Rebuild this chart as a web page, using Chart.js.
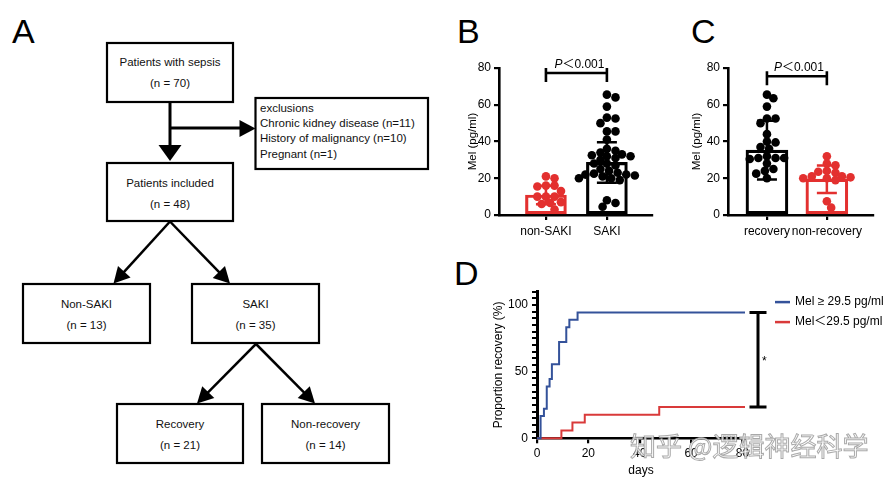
<!DOCTYPE html>
<html><head><meta charset="utf-8">
<script src="https://cdn.jsdelivr.net/npm/chart.js@4.4.1/dist/chart.umd.min.js"></script>
<style>
html,body{margin:0;padding:0;background:#fff;}
body{width:896px;height:486px;position:relative;overflow:hidden;font-family:"Liberation Sans",Arial,sans-serif;}
canvas{position:absolute;}
#wm{position:absolute;left:630px;top:432px;font-family:"Noto Sans CJK SC",sans-serif;font-size:26px;line-height:1;color:rgba(255,255,255,0.85);-webkit-text-stroke:1px rgba(140,140,140,0.75);white-space:nowrap;letter-spacing:0px;}
</style></head><body>
<svg id="fc" width="896" height="486" style="position:absolute;left:0;top:0" xmlns="http://www.w3.org/2000/svg"></svg>
<canvas id="cb" width="230" height="250" style="left:440px;top:0;width:230px;height:250px"></canvas>
<canvas id="cc" width="226" height="250" style="left:670px;top:0;width:226px;height:250px"></canvas>
<canvas id="cd" width="436" height="236" style="left:460px;top:250px;width:436px;height:236px"></canvas>
<div id="wm">知乎 @逻辑神经科学</div>
<script>
// ---------------- data ----------------
const bCategories = ['non-SAKI', 'SAKI'];
const bNonSAKI = [21, 20, 16, 16, 15.5, 13, 10, 10, 10, 7, 6.5, 6, 3];
const bSAKI = [65.5, 64, 59, 53, 52.5, 50, 45.5, 45.5, 41, 36, 35, 34, 33, 32.5, 32, 32, 31, 30, 28, 28, 27, 25, 24, 23, 22.5, 22, 22, 21.5, 21, 20, 20, 19, 8, 6.5, 4.5];
const bMeans = [10.9, 28.6];
const bSD = [5, 11];

const cCategories = ['recovery', 'non-recovery'];
const cRecovery = [65.5, 63.5, 59, 52.5, 52.5, 50, 44, 40, 39.5, 37, 36, 32, 31, 31, 31, 30.5, 28, 25, 24, 22.5, 20];
const cNonRecovery = [32, 28, 27, 24, 23.5, 23, 21, 21, 20.5, 20, 20, 19, 7.5, 4];
const cMeans = [35.3, 19.5];
const cSD = [16, 7.5];

const yTicksBC = [0, 20, 40, 60, 80];
const pText = '0.001';

const dLabels = ['Mel \u2265 29.5 pg/ml', 'Mel\uFF1C29.5 pg/ml'];
const dDaysHigh = [0, 1.4, 2.7, 3.8, 4.9, 5.8, 8.6, 11.4, 12.6, 15.8, 81];
const dPropHigh = [0, 16.7, 22.2, 38.9, 44.4, 55.6, 72.2, 83.3, 88.9, 94.4, 94.4];
const dDaysLow = [0, 9.5, 13.8, 18.6, 47.6, 81];
const dPropLow = [0, 5.9, 11.8, 17.6, 23.5, 23.5];
const dXTicks = [0, 20, 40, 60, 80];

// ---------------- flowchart (panel A) + panel letters ----------------
const NS = 'http://www.w3.org/2000/svg';
const svg = document.getElementById('fc');
function el(tag, attrs, text) {
  const e = document.createElementNS(NS, tag);
  for (const k in attrs) e.setAttribute(k, attrs[k]);
  if (text !== undefined) e.textContent = text;
  svg.appendChild(e);
  return e;
}
function box(x, y, w, h) { el('rect', {x, y, width: w, height: h, fill: '#fff', stroke: '#000', 'stroke-width': 2.2}); }
function txt(x, y, s, anchor, size) {
  el('text', {x, y, 'font-family': 'Liberation Sans, Arial, sans-serif', 'font-size': size || 11.5, 'text-anchor': anchor || 'middle', fill: '#111'}, s);
}
function arrow(x1, y1, x2, y2, lw, len, hw) {
  const dx = x2 - x1, dy = y2 - y1, L = Math.hypot(dx, dy);
  const ux = dx / L, uy = dy / L, nx = -uy, ny = ux;
  const bx = x2 - ux * len, by = y2 - uy * len;
  el('line', {x1, y1, x2: bx + ux, y2: by + uy, stroke: '#000', 'stroke-width': lw});
  el('polygon', {points: `${x2},${y2} ${bx + nx * hw},${by + ny * hw} ${bx - nx * hw},${by - ny * hw}`, fill: '#000'});
}
function letter(x, y, s) { el('text', {x, y, 'font-family': 'Liberation Sans, Arial, sans-serif', 'font-size': 34, fill: '#000'}, s); }
letter(12, 43, 'A'); letter(457, 43, 'B'); letter(691, 43, 'C'); letter(454, 285, 'D');

el('line', {x1: 170, y1: 128, x2: 240, y2: 128, stroke: '#000', 'stroke-width': 3});
arrow(170, 102, 170, 161, 3, 16, 11.5);
arrow(240, 128.5, 255.5, 128.5, 3, 16, 8.5);
arrow(170, 221.5, 113.5, 283.5, 2.5, 16, 8.5);
arrow(170, 221.5, 230, 283.5, 2.5, 16, 8.5);
arrow(256, 344, 197, 403.5, 2.5, 16, 8.5);
arrow(256, 344, 315, 403.5, 2.5, 16, 8.5);
box(107, 43, 126, 59); txt(170, 66, 'Patients with sepsis'); txt(170, 87, '(n = 70)');
box(255.5, 98, 172.5, 71);
txt(260, 112, 'exclusions', 'start'); txt(260, 127, 'Chronic kidney disease (n=11)', 'start');
txt(260, 142, 'History of malignancy (n=10)', 'start'); txt(260, 158, 'Pregnant (n=1)', 'start');
box(107, 163, 126, 58); txt(170, 187, 'Patients included'); txt(170, 208, '(n = 48)');
box(23, 284, 127, 59); txt(86.5, 308, 'Non-SAKI'); txt(86.5, 329, '(n = 13)');
box(192, 284, 127, 59); txt(255.5, 308, 'SAKI'); txt(255.5, 329, '(n = 35)');
box(117, 404, 126, 59); txt(180, 428, 'Recovery'); txt(180, 449, '(n = 21)');
box(262, 404, 127, 59); txt(325.5, 428, 'Non-recovery'); txt(325.5, 449, '(n = 14)');

// ---------------- shared ----------------
const FONT = '"Liberation Sans", Arial, "Noto Sans CJK SC", sans-serif';
Chart.defaults.font.family = FONT;
Chart.defaults.color = '#000';
const RED = '#e3302f';
const BLACK = '#000000';
const BLUE = '#34529a';
const RED2 = '#d93a3a';

const errPlugin = {
  id: 'err',
  afterDatasetsDraw(chart, args, o) {
    const {ctx, scales: {x, y}} = chart;
    o.means.forEach((m, i) => {
      const px = x.getPixelForValue(i);
      const t = y.getPixelForValue(m + o.sds[i]);
      const b = y.getPixelForValue(m - o.sds[i]);
      ctx.save();
      ctx.strokeStyle = o.colors[i]; ctx.lineWidth = 2.5;
      ctx.beginPath();
      ctx.moveTo(px, t); ctx.lineTo(px, b);
      ctx.moveTo(px - o.cap, t); ctx.lineTo(px + o.cap, t);
      ctx.moveTo(px - o.cap, b); ctx.lineTo(px + o.cap, b);
      ctx.stroke(); ctx.restore();
    });
  }
};
const bracketPlugin = {
  id: 'bracket',
  afterDraw(chart, args, o) {
    const {ctx, scales: {x, y}} = chart;
    const x1 = x.getPixelForValue(0), x2 = x.getPixelForValue(1);
    const py = y.getPixelForValue(o.level);
    ctx.save();
    ctx.strokeStyle = '#000'; ctx.lineWidth = 2.6;
    ctx.beginPath();
    ctx.moveTo(x1, py); ctx.lineTo(x2, py);
    ctx.moveTo(x1, py - 5); ctx.lineTo(x1, py + 9);
    ctx.moveTo(x2, py - 5); ctx.lineTo(x2, py + 9);
    ctx.stroke();
    ctx.fillStyle = '#000'; ctx.textBaseline = 'alphabetic';
    const fI = 'italic 12px ' + FONT, fN = '12px ' + FONT;
    ctx.font = fI; const wP = ctx.measureText('P').width;
    ctx.font = fN; const wL = ctx.measureText('\uFF1C').width, wN = ctx.measureText(o.text).width;
    let sx = (x1 + x2) / 2 + o.dx - (wP + wL + wN) / 2;
    const by = py - o.textGap;
    ctx.font = fI; ctx.fillText('P', sx, by); sx += wP;
    ctx.font = fN; ctx.fillText('\uFF1C', sx, by); sx += wL; ctx.fillText(o.text, sx, by);
    ctx.restore();
  }
};

function swarm(vals, center, xs, ys, r) {
  const cpx = xs.getPixelForValue(center);
  const placed = [];
  const res = vals.map(() => null);
  const idx = vals.map((v, i) => i).sort((a, b) => vals[b] - vals[a]);
  const d = 2 * r * 0.82;
  for (const i of idx) {
    const py = ys.getPixelForValue(vals[i]);
    for (let k = 0; k < 200; k++) {
      const off = k === 0 ? 0 : (k % 2 ? 1 : -1) * Math.ceil(k / 2) * r * 0.5;
      const px = cpx + off;
      if (placed.every(p => Math.hypot(p[0] - px, p[1] - py) >= d)) {
        placed.push([px, py]);
        res[i] = {x: xs.getValueForPixel(px), y: vals[i]};
        break;
      }
    }
  }
  return res;
}

function barScatter(id, cats, groups, means, sds, colors, g) {
  const chart = new Chart(document.getElementById(id), {
    type: 'bar',
    data: {
      datasets: [
        {type: 'bar', data: means.map((m, i) => ({x: i, y: m})), backgroundColor: 'rgba(255,255,255,0)',
         borderColor: colors, borderWidth: 2.5, borderSkipped: false, barThickness: g.barW, order: 3, clip: false},
        ...groups.map((grp, gi) => ({type: 'scatter', data: grp.map(v => ({x: gi, y: v})), backgroundColor: colors[gi],
          borderWidth: 0, pointRadius: g.r, pointHoverRadius: g.r, order: 1, clip: false}))
      ]
    },
    options: {
      responsive: false, animation: false, events: [],
      layout: {padding: {left: g.padL, top: g.padT, right: g.padR, bottom: 0}},
      plugins: {
        legend: {display: false}, tooltip: {enabled: false},
        err: {means, sds, colors, cap: 10},
        bracket: {level: g.bracketLevel, text: pText, dx: g.textDx, textGap: 5}
      },
      scales: {
        x: {
          type: 'linear', min: g.xmin, max: g.xmax, offset: false, bounds: 'ticks',
          afterFit: s => { s.height = g.xH; s.paddingLeft = 0; s.paddingRight = 0; },
          afterBuildTicks: s => { s.ticks = cats.map((c, i) => ({value: i})); },
          ticks: {callback: v => cats[v], color: '#000', font: {size: 12}, padding: 4, autoSkip: false, maxRotation: 0},
          grid: {display: true, offset: false, drawOnChartArea: false, drawTicks: true, tickLength: 5, color: '#000', lineWidth: 2.2},
          border: {display: true, color: '#000', width: 2.6}
        },
        y: {
          min: 0, max: 80,
          afterFit: s => { s.width = g.yW; },
          afterBuildTicks: s => { s.ticks = yTicksBC.map(v => ({value: v})); },
          ticks: {color: '#000', font: {size: 12}, padding: 3},
          title: {display: true, text: 'Mel (pg/ml)', font: {size: 11.5}, color: '#000', padding: {top: 4, bottom: 4}},
          grid: {display: true, drawOnChartArea: false, drawTicks: true, tickLength: 5, color: '#000', lineWidth: 2.2},
          border: {display: true, color: '#000', width: 2.6}
        }
      }
    },
    plugins: [errPlugin, bracketPlugin]
  });
  groups.forEach((grp, gi) => { chart.data.datasets[gi + 1].data = swarm(grp, gi, chart.scales.x, chart.scales.y, g.r); });
  chart.update('none');
  return chart;
}

barScatter('cb', bCategories, [bNonSAKI, bSAKI], bMeans, bSD, [RED, BLACK],
  {padL: 22, yW: 37, padT: 68, padR: 18, xH: 35, xmin: -0.77, xmax: 1.74, barW: 41, r: 4.3, bracketLevel: 77.3, textDx: 3});
barScatter('cc', cCategories, [cRecovery, cNonRecovery], cMeans, cSD, [BLACK, RED],
  {padL: 16, yW: 42, padT: 68, padR: 23, xH: 35, xmin: -0.65, xmax: 1.77, barW: 42, r: 4.3, bracketLevel: 75.5, textDx: 2});

// ---------------- panel D ----------------
const kmExtras = {
  id: 'kmExtras',
  afterDraw(chart) {
    const {ctx, chartArea: a, scales: {y}} = chart;
    ctx.save();
    const bx = a.right + 13;
    const t = y.getPixelForValue(dPropHigh[dPropHigh.length - 1]);
    const b = y.getPixelForValue(dPropLow[dPropLow.length - 1]);
    ctx.strokeStyle = '#000'; ctx.lineWidth = 3;
    ctx.beginPath();
    ctx.moveTo(bx, t); ctx.lineTo(bx, b);
    ctx.moveTo(bx - 8.5, t); ctx.lineTo(bx + 8.5, t);
    ctx.moveTo(bx - 8.5, b); ctx.lineTo(bx + 8.5, b);
    ctx.stroke();
    ctx.fillStyle = '#000'; ctx.font = '12px ' + FONT; ctx.textAlign = 'left'; ctx.textBaseline = 'middle';
    ctx.fillText('*', bx + 4, (t + b) / 2 + 2);
    chart.data.datasets.forEach((ds, i) => {
      const ly = a.top + 10.5 + i * 20;
      ctx.strokeStyle = ds.borderColor; ctx.lineWidth = 2.5;
      ctx.beginPath(); ctx.moveTo(a.right + 30, ly); ctx.lineTo(a.right + 45, ly); ctx.stroke();
      ctx.fillStyle = '#000'; ctx.fillText(ds.label, a.right + 50, ly);
    });
    ctx.restore();
  }
};
new Chart(document.getElementById('cd'), {
  type: 'line',
  data: {
    datasets: [
      {label: dLabels[0], data: dDaysHigh.map((x, i) => ({x, y: dPropHigh[i]})), borderColor: BLUE, borderWidth: 2, stepped: 'before', pointRadius: 0, fill: false, clip: false},
      {label: dLabels[1], data: dDaysLow.map((x, i) => ({x, y: dPropLow[i]})), borderColor: RED2, borderWidth: 2, stepped: 'before', pointRadius: 0, fill: false, clip: false}
    ]
  },
  options: {
    responsive: false, animation: false, events: [],
    layout: {padding: {left: 27, top: 41.6, right: 151, bottom: 0}},
    plugins: {legend: {display: false}, tooltip: {enabled: false}},
    scales: {
      x: {
        type: 'linear', min: 0, max: 81,
        afterFit: s => { s.height = 47.7; },
        afterBuildTicks: s => { s.ticks = dXTicks.map(v => ({value: v})); },
        ticks: {color: '#000', font: {size: 12}, padding: 3, maxRotation: 0, autoSkip: false},
        title: {display: true, text: 'days', font: {size: 12}, color: '#000', padding: {top: 4, bottom: 8}},
        grid: {display: true, drawOnChartArea: false, drawTicks: true, tickLength: 5, color: '#000', lineWidth: 2.2},
        border: {display: true, color: '#000', width: 2.6}
      },
      y: {
        min: 0, max: 110,
        afterFit: s => { s.width = 50; },
        ticks: {stepSize: 5, autoSkip: false, color: '#000', font: {size: 12}, padding: 4, callback: v => (v % 50 === 0 ? v : '')},
        title: {display: true, text: 'Proportion recovery (%)', font: {size: 12}, color: '#000', padding: {top: 4, bottom: 4}},
        grid: {display: true, drawOnChartArea: false, drawTicks: true, tickLength: 5, color: '#000', lineWidth: 2},
        border: {display: true, color: '#000', width: 3}
      }
    }
  },
  plugins: [kmExtras]
});
</script>
</body></html>
